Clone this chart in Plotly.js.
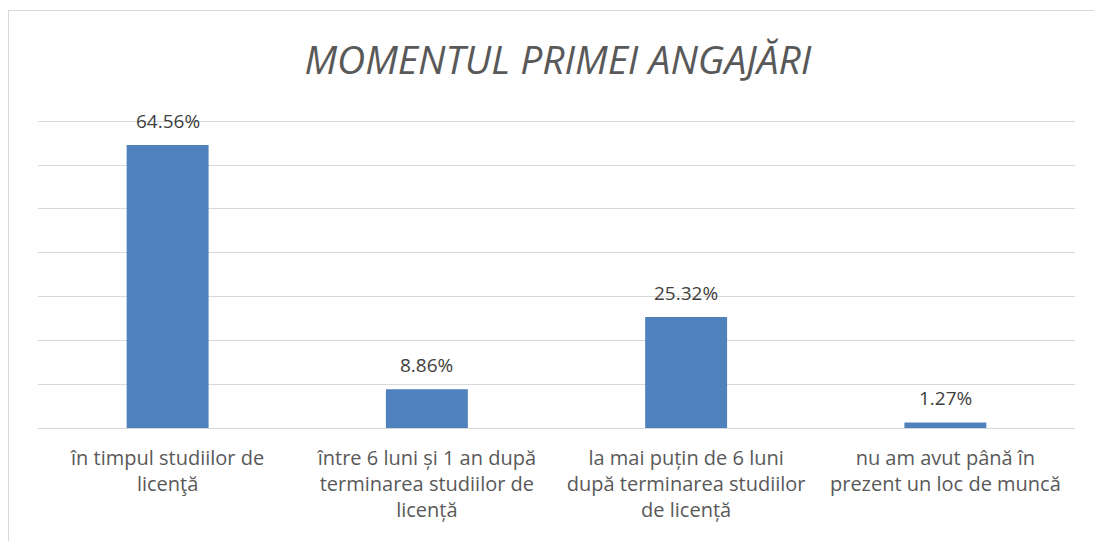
<!DOCTYPE html>
<html>
<head>
<meta charset="utf-8">
<script src="https://cdn.plot.ly/plotly-3.0.1.min.js"></script>
<style>
html,body{margin:0;padding:0;background:#fff;overflow:hidden;}
#frame{position:absolute;left:8px;top:10px;width:1100px;height:560px;border:1px solid #d9d9d9;box-sizing:border-box;pointer-events:none;z-index:5;}
#chart{position:absolute;left:0;top:0;width:1094px;height:541px;}
</style>
</head>
<body>
<div id="chart"></div>
<div id="frame"></div>
<script>
const categories = [
  "în timpul studiilor de<br>licenţă",
  "între 6 luni și 1 an după<br>terminarea studiilor de<br>licență",
  "la mai puțin de 6 luni<br>după terminarea studiilor<br>de licență",
  "nu am avut până în<br>prezent un loc de muncă"
];
const values = [64.56, 8.86, 25.32, 1.27];
const chartTitle = "MOMENTUL PRIMEI ANGAJĂRI";

const trace = {
  type: "bar",
  x: categories,
  y: values,
  marker: {color: "#4f81bd"},
  hoverinfo: "none"
};

const annotations = categories.map((c, i) => ({
  x: c,
  y: values[i],
  xref: "x",
  yref: "y",
  text: values[i].toFixed(2) + "%",
  showarrow: false,
  yanchor: "bottom",
  yshift: 9,
  font: {family: "Open Sans, sans-serif", size: 19, color: "#404040"}
}));

const layout = {
  width: 1094,
  height: 541,
  margin: {l: 38, r: 19, t: 119, b: 113},
  paper_bgcolor: "#ffffff",
  plot_bgcolor: "#ffffff",
  showlegend: false,
  bargap: 0.684,
  annotations: annotations,
  title: {
    text: "<i>" + chartTitle + "</i>",
    font: {family: "Open Sans, sans-serif", size: 39, color: "#595959"},
    x: 0.51, xanchor: "center",
    y: 1 - 60/541, yanchor: "middle", yref: "container"
  },
  xaxis: {
    tickfont: {family: "Open Sans, sans-serif", size: 20, color: "#595959"},
    ticklabelstandoff: 16,
    showline: false,
    ticks: "",
    showgrid: false,
    zeroline: false
  },
  yaxis: {
    range: [0, 70.5],
    tickvals: [0, 10, 20, 30, 40, 50, 60, 70],
    showticklabels: false,
    showgrid: true,
    gridcolor: "#d9d9d9",
    gridwidth: 1,
    zeroline: true,
    zerolinecolor: "#d9d9d9",
    zerolinewidth: 1,
    ticks: "",
    showline: false
  }
};

Plotly.newPlot("chart", [trace], layout, {displayModeBar: false, staticPlot: true});
</script>
</body>
</html>
